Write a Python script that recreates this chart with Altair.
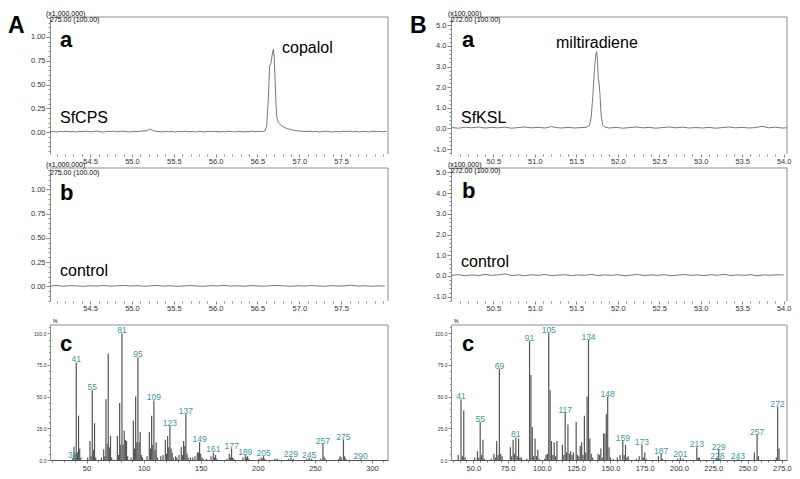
import altair as alt
import pandas as pd

# ---------------- data ----------------
# A-a : SfCPS chromatogram (m/z 275, x1,000,000)
A_sfcps_t = [54.02, 54.06, 54.10, 54.14, 54.18, 54.22, 54.26, 54.30, 54.34, 54.38,
             54.42, 54.46, 54.50, 54.54, 54.58, 54.62, 54.66, 54.70, 54.74, 54.78,
             54.82, 54.86, 54.90, 54.94, 54.98, 55.02, 55.06, 55.10, 55.14, 55.18,
             55.21, 55.23, 55.25, 55.28, 55.32, 55.36, 55.40, 55.44, 55.48, 55.52,
             55.56, 55.60, 55.64, 55.68, 55.72, 55.76, 55.80, 55.84, 55.88, 55.92,
             55.96, 56.00, 56.04, 56.08, 56.12, 56.16, 56.20, 56.24, 56.28, 56.32,
             56.36, 56.40, 56.44, 56.48, 56.52, 56.56, 56.59, 56.61, 56.63, 56.645,
             56.66, 56.675, 56.69, 56.70, 56.71, 56.72, 56.73, 56.74, 56.75, 56.77,
             56.79, 56.82, 56.85, 56.88, 56.92, 56.96, 57.00, 57.04, 57.08, 57.12,
             57.16, 57.20, 57.24, 57.28, 57.32, 57.36, 57.40, 57.44, 57.48, 57.52,
             57.56, 57.60, 57.64, 57.68, 57.72, 57.76, 57.80, 57.84, 57.88, 57.92,
             57.96, 58.00, 58.04]
A_sfcps_v = [0.004, 0.009, 0.002, 0.007, 0.005, 0.010, 0.003, 0.007, 0.001, 0.008,
             0.005, 0.010, 0.003, 0.006, 0.011, 0.004, 0.001, 0.008, 0.005, 0.010,
             0.003, 0.007, 0.010, 0.004, 0.002, 0.008, 0.005, 0.009, 0.012, 0.015,
             0.032, 0.027, 0.016, 0.010, 0.006, 0.003, 0.009, 0.004, 0.007, 0.002,
             0.008, 0.004, 0.010, 0.003, 0.007, 0.001, 0.008, 0.005, 0.003, 0.009,
             0.005, 0.008, 0.002, 0.007, 0.003, 0.010, 0.005, 0.002, 0.008, 0.004,
             0.003, 0.007, 0.010, 0.004, 0.008, 0.006, 0.014, 0.06, 0.35, 0.70,
             0.72, 0.81, 0.87, 0.79, 0.56, 0.32, 0.16, 0.12, 0.10, 0.08,
             0.065, 0.05, 0.038, 0.03, 0.022, 0.016, 0.012, 0.009, 0.006, 0.010,
             0.004, 0.008, 0.002, 0.007, 0.010, 0.004, 0.001, 0.007, 0.003, 0.009,
             0.005, 0.010, 0.003, 0.007, 0.001, 0.008, 0.005, 0.003, 0.010, 0.005,
             0.007, 0.003, 0.008]

# A-b : control chromatogram
A_ctrl_t = [54.02, 54.10, 54.18, 54.26, 54.34, 54.42, 54.50, 54.58, 54.66, 54.74,
            54.82, 54.90, 54.98, 55.06, 55.14, 55.22, 55.30, 55.38, 55.46, 55.54,
            55.62, 55.70, 55.78, 55.86, 55.94, 56.02, 56.10, 56.18, 56.26, 56.34,
            56.42, 56.50, 56.58, 56.66, 56.74, 56.82, 56.90, 56.98, 57.06, 57.14,
            57.22, 57.30, 57.38, 57.46, 57.54, 57.62, 57.70, 57.78, 57.86, 57.94, 58.02]
A_ctrl_v = [0.004, 0.009, 0.002, 0.008, 0.005, 0.001, 0.007, 0.004, 0.010, 0.003,
            0.006, 0.011, 0.004, 0.008, 0.002, 0.006, 0.010, 0.004, 0.007, 0.001,
            0.005, 0.009, 0.004, 0.002, 0.008, 0.005, 0.011, 0.003, 0.007, 0.002,
            0.009, 0.005, 0.003, 0.007, 0.010, 0.005, 0.002, 0.007, 0.004, 0.009,
            0.005, 0.002, 0.008, 0.004, 0.006, 0.013, 0.004, 0.007, 0.002, 0.006, 0.004]

# B-a : SfKSL chromatogram (m/z 272, x100,000)
B_sfksl_t = [50.00, 50.08, 50.16, 50.24, 50.32, 50.40, 50.48, 50.56, 50.64, 50.72,
             50.80, 50.88, 50.96, 51.04, 51.12, 51.20, 51.26, 51.32, 51.40, 51.48,
             51.56, 51.62, 51.66, 51.68, 51.70, 51.72, 51.735, 51.745, 51.755, 51.765,
             51.775, 51.785, 51.80, 51.82, 51.85, 51.90, 51.98, 52.06, 52.14, 52.22,
             52.30, 52.38, 52.46, 52.54, 52.62, 52.70, 52.78, 52.86, 52.94, 53.02,
             53.10, 53.18, 53.26, 53.34, 53.42, 53.50, 53.58, 53.66, 53.74, 53.82,
             53.90, 53.98, 54.04]
B_sfksl_v = [0.04, 0.01, 0.06, 0.03, 0.07, 0.02, 0.05, 0.03, 0.06, 0.01,
             0.04, 0.07, 0.03, 0.05, 0.02, 0.09, 0.04, 0.02, 0.05, 0.02,
             0.04, 0.05, 0.15, 0.55, 1.60, 2.90, 3.55, 3.72, 3.40, 2.40,
             2.20, 1.70, 0.60, 0.15, 0.06, 0.02, 0.05, 0.01, 0.04, 0.07,
             0.03, 0.05, 0.01, 0.04, 0.07, 0.03, 0.06, 0.02, 0.04, 0.02,
             0.05, 0.01, 0.04, 0.07, 0.03, 0.05, 0.02, 0.04, 0.10, 0.03,
             0.06, 0.02, 0.03]

# B-b : control chromatogram
B_ctrl_t = [50.00, 50.08, 50.16, 50.24, 50.32, 50.40, 50.48, 50.56, 50.64, 50.72,
            50.80, 50.88, 50.96, 51.04, 51.12, 51.20, 51.28, 51.36, 51.44, 51.52,
            51.60, 51.68, 51.76, 51.84, 51.92, 52.00, 52.08, 52.16, 52.24, 52.32,
            52.40, 52.48, 52.56, 52.64, 52.72, 52.80, 52.88, 52.96, 53.04, 53.12,
            53.20, 53.28, 53.36, 53.44, 53.52, 53.60, 53.68, 53.76, 53.84, 53.92, 54.00]
B_ctrl_v = [0.03, 0.06, 0.01, 0.05, 0.02, 0.07, 0.03, 0.05, 0.10, 0.02,
            0.05, 0.01, 0.06, 0.03, 0.07, 0.02, 0.04, 0.06, 0.01, 0.05,
            0.03, 0.07, 0.02, 0.05, 0.03, 0.06, 0.01, 0.04, 0.07, 0.02,
            0.05, 0.03, 0.06, 0.01, 0.04, 0.07, 0.03, 0.05, 0.02, 0.06,
            0.03, 0.08, 0.02, 0.05, 0.03, 0.06, 0.01, 0.05, 0.03, 0.06, 0.04]

# A-c : mass spectrum of copalol
A_mz = [38, 39, 40, 41, 42, 43, 44, 45, 51, 53, 54, 55, 56, 57, 58, 63, 65, 66, 67, 68,
        69, 70, 71, 72, 77, 78, 79, 80, 81, 82, 83, 84, 85, 86, 89, 91, 92, 93, 94, 95,
        96, 97, 98, 99, 103, 105, 106, 107, 108, 109, 110, 111, 112, 115, 117, 119, 120, 121, 122, 123,
        124, 125, 126, 128, 129, 131, 133, 134, 135, 136, 137, 138, 139, 141, 143, 145, 147, 148, 149, 150,
        151, 152, 155, 159, 161, 162, 163, 164, 173, 175, 176, 177, 178, 179, 187, 189, 190, 191, 192, 201,
        203, 204, 205, 206, 215, 217, 227, 229, 231, 243, 245, 247, 255, 257, 258, 259, 271, 272, 273, 275,
        276, 277, 290]
A_int = [1.5, 10.5, 5, 77, 6, 35, 9, 2, 2, 15, 3, 55, 8, 29, 2, 2, 8.5, 3, 48, 13,
         84, 10, 19, 2, 19, 4, 45, 12, 100, 12, 23, 16, 15, 3, 2, 31, 9, 50, 14, 81,
         14, 22, 4, 2, 3, 22, 9, 35, 12, 47, 8, 14, 2, 3, 4, 16, 5, 19, 10, 27,
         9, 6, 2, 3, 2, 4, 10, 4, 15, 11, 36, 5, 2, 2, 2, 3, 6, 6, 14, 5,
         2, 1, 1, 3, 6, 2, 4, 1, 1, 5, 2, 9, 2, 1, 2, 4, 2, 3, 1, 1,
         2, 1, 3, 1, 1, 1, 1, 2, 1, 1, 1.5, 1, 1, 13, 2.5, 1, 1, 3, 2, 16,
         3, 1, 0.5]
A_labels = [38, 41, 55, 81, 95, 109, 123, 137, 149, 161, 177, 189, 205, 229, 245, 257, 275, 290]

# B-c : mass spectrum of miltiradiene
B_mz = [39, 41, 42, 43, 44, 51, 53, 54, 55, 56, 57, 58, 63, 65, 66, 67, 68, 69, 70, 71,
        77, 78, 79, 80, 81, 82, 83, 84, 85, 89, 91, 92, 93, 94, 95, 96, 97, 98, 102, 103,
        104, 105, 106, 107, 108, 109, 110, 111, 115, 116, 117, 118, 119, 120, 121, 122, 123, 125, 126, 127,
        128, 129, 130, 131, 132, 133, 134, 135, 136, 137, 141, 142, 143, 144, 145, 146, 147, 148, 149, 150,
        152, 155, 157, 159, 160, 161, 162, 163, 169, 171, 173, 174, 175, 176, 185, 187, 188, 199, 201, 203,
        213, 214, 215, 227, 228, 229, 230, 243, 255, 257, 258, 271, 272, 273]
B_int = [4, 48, 3, 39, 2, 2, 7, 2, 30, 4, 16, 1, 1, 5, 2, 15, 4, 72, 5, 3,
         10, 3, 16, 5, 18, 3, 17, 2, 2, 1, 94, 67, 26, 3, 17, 3, 8, 1, 1, 4,
         5, 100, 55, 15, 4, 14, 3, 15, 12, 4, 37, 6, 28, 5, 7, 4, 6, 30, 4, 3,
         11, 14, 4, 35, 6, 50, 95, 17, 5, 2, 5, 4, 9, 2, 21, 21, 36, 50, 10, 2,
         1, 2, 4, 15, 4, 12, 2, 3, 1, 3, 12, 2, 6, 1, 3, 5, 1, 1, 2, 1,
         10, 2, 2, 1, 1, 8, 1, 1, 6, 20, 3, 2, 42, 9]
B_labels = [41, 55, 69, 81, 91, 105, 117, 134, 148, 159, 173, 187, 201, 213, 228, 229, 243, 257, 272]

# axis tick positions
A_time_ticks = [round(54.1 + 0.1 * i, 1) for i in range(40)]
B_time_ticks = [round(50.1 + 0.1 * i, 1) for i in range(40)]
A_int_ticks = [round(-0.20 + 0.05 * i, 2) for i in range(29)]
B_int_ticks = [round(-1.2 + 0.2 * i, 1) for i in range(33)]
A_mz_ticks = [20 + 10 * i for i in range(30)]
B_mz_ticks = [35 + 5 * i for i in range(49)]
pct_ticks = [5 * i for i in range(22)]

# ---------------- style ----------------
FONT = "Liberation Sans"
FRAME = "#8c8c8c"
TRACE = "#555555"
STICK = "#555555"
TEAL = "#3a9a9c"

WA, WB = 338, 336
H1, H2, H3 = 137, 133, 145
SPEC_TOP = 10
EMPTY = alt.Data(values=[{}])


def frame(W, H, top=0):
    base = alt.Chart(EMPTY)
    t = base.mark_rule(color=FRAME, strokeWidth=1).encode(
        x=alt.value(0), x2=alt.value(W), y=alt.value(top))
    r = base.mark_rule(color=FRAME, strokeWidth=1).encode(
        x=alt.value(W), y=alt.value(top), y2=alt.value(H))
    return [t, r]


def label(txt, x, y, size, bold=False, color="black", font=FONT):
    return alt.Chart(EMPTY).mark_text(
        text=txt, font=font, fontSize=size, fontWeight="bold" if bold else "normal",
        color=color, align="left", baseline="alphabetic").encode(
        x=alt.value(x), y=alt.value(y))


def cond(test, a, b):
    return {"condition": {"test": test, "value": a}, "value": b}


def every(step):
    return f"abs(datum.value/{step} - round(datum.value/{step})) < 0.001"


def chrom(t, v, W, H, xdom, ydom, xvals, xtest, yvals, ytest, yfmt, extras):
    df = pd.DataFrame({"t": t, "v": v})
    line = alt.Chart(df).mark_line(color=TRACE, strokeWidth=0.8, clip=True).encode(
        x=alt.X("t:Q", title=None,
                scale=alt.Scale(domain=xdom, nice=False, zero=False),
                axis=alt.Axis(values=xvals, domain=False, grid=False,
                              labelExpr=f"({xtest}) ? format(datum.value, '.1f') : ''",
                              tickSize=cond(xtest, 3, 2), labelPadding=0,
                              labelOverlap=False, labelFlush=False, labelFontSize=7.5)),
        y=alt.Y("v:Q", title=None,
                scale=alt.Scale(domain=ydom, nice=False, zero=False),
                axis=alt.Axis(values=yvals, domain=True, grid=False,
                              labelExpr=f"({ytest}) ? {yfmt} : ''",
                              tickSize=cond(ytest, 4, 2), labelPadding=1,
                              labelOverlap=False, labelFlush=False, labelFontSize=7.5)),
    )
    return alt.layer(line, *frame(W, H), *extras).properties(width=W, height=H)


def spec(mz, inten, labs, W, H, xdom, xvals, xtest, xfmt, extras):
    df = pd.DataFrame({"mz": mz, "i": inten, "z": [0] * len(mz)})
    lut = dict(zip(mz, inten))
    ldf = pd.DataFrame({"mz": labs, "i": [lut[m] for m in labs], "s": [str(m) for m in labs]})
    xs = alt.Scale(domain=xdom, nice=False, zero=False)
    ys = alt.Scale(domain=[0, 106.5], range=[H, SPEC_TOP], nice=False, zero=False)
    ytest = every(25)
    xax = alt.Axis(values=xvals, domain=True, domainColor="#555", grid=False,
                   labelExpr=f"({xtest}) ? {xfmt} : ''",
                   tickSize=cond(xtest, 3, 2), labelPadding=1,
                   labelOverlap=False, labelFlush=False, labelFontSize=7.5)
    yax = alt.Axis(values=pct_ticks, domain=True, grid=False,
                   labelExpr=f"({ytest}) ? format(datum.value, '.1f') : ''",
                   tickSize=cond(ytest, 3, 1.5), labelPadding=1,
                   labelOverlap=False, labelFlush=False, labelFontSize=5)
    sticks = alt.Chart(df).mark_rule(color=STICK, strokeWidth=1.2).encode(
        x=alt.X("mz:Q", title=None, scale=xs, axis=xax),
        y=alt.Y("i:Q", title=None, scale=ys, axis=yax),
        y2="z:Q",
    )
    texts = alt.Chart(ldf).mark_text(color=TEAL, font=FONT, fontSize=8.5,
                                     baseline="middle", dy=-3).encode(
        x=alt.X("mz:Q", title=None, scale=xs, axis=xax),
        y=alt.Y("i:Q", title=None, scale=ys, axis=yax),
        text="s:N")
    return alt.layer(sticks, texts, *frame(W, H, SPEC_TOP), *extras).properties(width=W, height=H)


tA = every(0.5) + " && datum.value > 54.4 && datum.value < 57.6"
tB = every(0.5) + " && datum.value > 50.4"
yA = every(0.25) + " && datum.value > -0.01"
yB = every(1)
fA = "format(datum.value, '.2f')"
fB = "replace(format(datum.value, '.1f'), '\u2212', '-')"

Aa = chrom(A_sfcps_t, A_sfcps_v, WA, H1, [54.02, 58.06], [-0.23, 1.21],
           A_time_ticks, tA, A_int_ticks, yA, fA,
           [label("A", -42, 16, 23, True), label("a", 10, 30, 22, True),
            label("copalol", 232, 36, 16), label("SfCPS", 10, 106, 16),
            label("(x1,000,000)", -4, -1.5, 7), label("275.00 (100.00)", 0, 5, 7)])
Ab = chrom(A_ctrl_t, A_ctrl_v, WA, H2, [54.02, 58.06], [-0.15, 1.22],
           A_time_ticks, tA, A_int_ticks, yA, fA,
           [label("b", 10, 32, 22, True), label("control", 10, 108, 16),
            label("(x1,000,000)", -4, -1, 7), label("275.00 (100.00)", 0, 7, 7)])
Ba = chrom(B_sfksl_t, B_sfksl_v, WB, H1, [49.99, 54.04], [-1.24, 5.4],
           B_time_ticks, tB, B_int_ticks, yB, fB,
           [label("B", -41, 16, 23, True), label("a", 11, 30, 22, True),
            label("miltiradiene", 105, 31, 16), label("SfKSL", 10, 106, 16),
            label("(x100,000)", -3, -1.5, 7), label("272.00 (100.00)", 0, 5, 7)])
Bb = chrom(B_ctrl_t, B_ctrl_v, WB, H2, [49.99, 54.04], [-1.21, 5.21],
           B_time_ticks, tB, B_int_ticks, yB, fB,
           [label("b", 11, 30, 22, True), label("control", 10, 99, 16),
            label("(x100,000)", -3, -1.5, 7), label("272.00 (100.00)", 0, 5, 7)])
Ac = spec(A_mz, A_int, A_labels, WA, H3, [18, 314], A_mz_ticks,
          every(50), "format(datum.value, 'd')",
          [label("c", 10, SPEC_TOP + 26, 22, True), label("%", 3, SPEC_TOP - 2, 5)])
Bc = spec(B_mz, B_int, B_labels, WB, H3, [33.7, 278.8], B_mz_ticks,
          every(25), "format(datum.value, '.1f')",
          [label("c", 11, SPEC_TOP + 26, 22, True), label("%", 3, SPEC_TOP - 2, 5)])

chart = alt.concat(
    Aa, Ba, Ab, Bb, Ac, Bc, columns=2,
    spacing={"row": 14, "column": 63}, bounds="flush",
).properties(
    padding={"left": 0, "top": 1, "right": 0, "bottom": 0},
    background="white",
).configure_view(strokeWidth=0).configure_axis(
    labelFont=FONT, labelColor="#333333", tickColor="#666666", tickWidth=0.8,
    domainColor=FRAME, domainWidth=1,
)

chart.save("out.html", embed_options={"renderer": "svg", "actions": False})
